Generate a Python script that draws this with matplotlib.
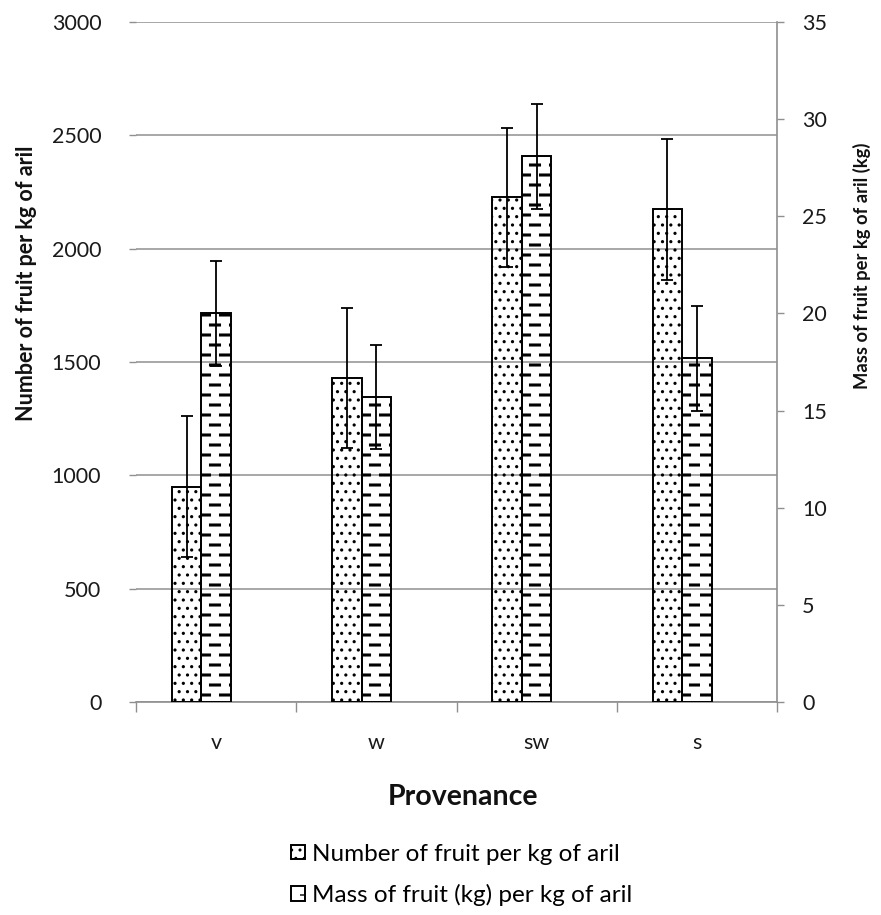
import numpy as np
import matplotlib
matplotlib.use("Agg")
import matplotlib.pyplot as plt
import matplotlib.hatch as mhatch
from matplotlib.path import Path

# ---- data ----
categories = ["v", "w", "sw", "s"]
number_per_kg = [950, 1430, 2227, 2173]
number_err = [310, 310, 307, 310]
mass_per_kg = [20.0, 15.7, 28.1, 17.7]
mass_err = [2.7, 2.7, 2.7, 2.7]
left_ticks = [0, 500, 1000, 1500, 2000, 2500, 3000]
right_ticks = [0, 5, 10, 15, 20, 25, 30, 35]
label_number = "Number of fruit per kg of aril"
label_mass = "Mass of fruit (kg) per kg of aril"


# ---- custom dashed-row hatch replacing '-' ----
class DashedRows(mhatch.HatchPatternBase):
    def __init__(self, hatch, density):
        self.on = ('-' in hatch)
        self.nrows = 10
        self.ncols = 5
        self.num_lines = self.nrows * self.ncols if self.on else 0
        self.num_vertices = self.num_lines * 2

    def set_vertices_and_codes(self, vertices, codes):
        i = 0
        for k in range(self.nrows):
            y = (k + 0.5) / self.nrows
            shift = 0.1 if k % 2 else 0.0
            for j in range(self.ncols):
                x0 = j / self.ncols + shift + 0.005
                vertices[2 * i] = (x0, y)
                vertices[2 * i + 1] = (x0 + 0.09, y)
                codes[2 * i] = Path.MOVETO
                codes[2 * i + 1] = Path.LINETO
                i += 1


mhatch._hatch_types[0] = DashedRows

plt.rcParams['font.family'] = ['Lato', 'DejaVu Sans']
plt.rcParams['hatch.color'] = 'black'

W, H = 881, 915
fig = plt.figure(figsize=(W / 100, H / 100), dpi=100)
ax_l, ax_r, ax_b, ax_t = 136, 777, 702, 22
ax1 = fig.add_axes([ax_l / W, 1 - ax_b / H, (ax_r - ax_l) / W, (ax_b - ax_t) / H])
ax2 = ax1.twinx()

x = np.arange(len(categories))
bw = 0.184
grid_c = '#8f8f8f'
txt_c = '#1a1a1a'

plt.rcParams['hatch.linewidth'] = 1.1
b1 = ax1.bar(x - bw, number_per_kg, width=bw, facecolor='none', edgecolor='black',
             linewidth=1.4, hatch='..', label=label_number, zorder=3)
ax1.errorbar(x - bw, number_per_kg, yerr=number_err, fmt='none', ecolor='black',
             elinewidth=1.3, capsize=4.5, capthick=1.3, zorder=4)

plt.rcParams['hatch.linewidth'] = 2.2
b2 = ax2.bar(x, mass_per_kg, width=bw, facecolor='none', edgecolor='black',
             linewidth=1.4, hatch='-', label=label_mass, zorder=3)
plt.rcParams['hatch.linewidth'] = 1.0
ax2.errorbar(x, mass_per_kg, yerr=mass_err, fmt='none', ecolor='black',
             elinewidth=1.3, capsize=4.5, capthick=1.3, zorder=4)

ax1.set_xlim(-0.5, len(categories) - 0.5)
ax1.set_ylim(0, 3000)
ax2.set_ylim(0, 35)
ax1.set_yticks(left_ticks)
ax2.set_yticks(right_ticks)
ax1.yaxis.grid(True, color=grid_c, linewidth=1.1)
ax1.set_axisbelow(True)

ax1.set_xticks(x)
ax1.set_xticklabels(categories)
ax1.set_xticks(np.arange(len(categories) + 1) - 0.5, minor=True)
ax1.tick_params(axis='x', which='major', length=0, pad=22, labelsize=15.5, labelcolor=txt_c)
ax1.tick_params(axis='x', which='minor', length=7, width=1, color=grid_c, direction='out')
ax1.tick_params(axis='y', length=5, width=1, color=grid_c, pad=20, labelsize=15.5, labelcolor=txt_c)
ax2.tick_params(axis='y', length=5, width=1, color=grid_c, pad=13, labelsize=15.5, labelcolor=txt_c)

for a in (ax1, ax2):
    a.spines['top'].set_visible(False)
    a.spines['left'].set_visible(False)
ax2.spines['right'].set_color(grid_c)
ax2.spines['right'].set_linewidth(1.2)
ax1.spines['right'].set_visible(False)
ax2.spines['bottom'].set_visible(False)
ax1.spines['bottom'].set_color(grid_c)
ax1.spines['bottom'].set_linewidth(1.2)

fig.text(27 / W, 1 - 283 / H, "Number of fruit per kg of aril", rotation=90,
         ha='center', va='center', fontsize=15.5, fontweight='bold', color='#111111')
fig.text(862 / W, 1 - 266 / H, "Mass of fruit per kg of aril (kg)", rotation=90,
         ha='center', va='center', fontsize=13.2, fontweight='bold', color='#111111')
fig.text(463 / W, 1 - 797 / H, "Provenance", ha='center', va='center',
         fontsize=20.5, fontweight='bold', color='#111111')

fig.legend(handles=[b1, b2], loc='center', bbox_to_anchor=(0.524, 1 - 875 / H),
           frameon=False, fontsize=17.5, handlelength=0.55, handleheight=0.55,
           handletextpad=0.3, labelspacing=0.8, borderpad=0)

fig.savefig("out.png", dpi=100)
